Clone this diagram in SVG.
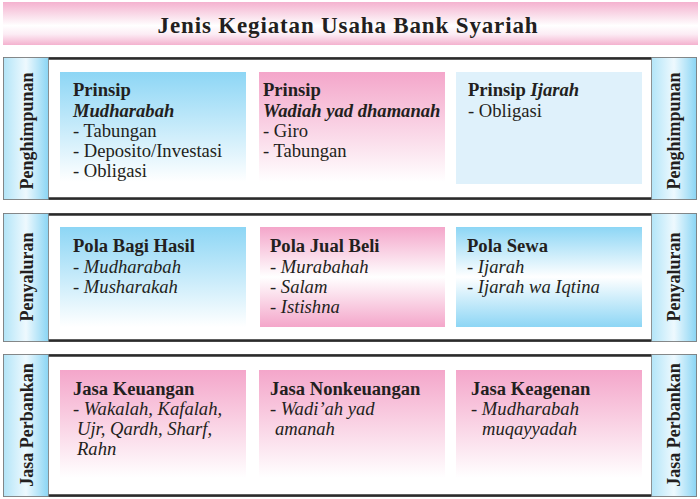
<svg xmlns="http://www.w3.org/2000/svg" width="700" height="499" viewBox="0 0 700 499">
<defs>
  <linearGradient id="gTitle" x1="0" y1="0" x2="0" y2="1">
    <stop offset="0" stop-color="#f4b2cf"/>
    <stop offset="0.55" stop-color="#ffffff"/>
    <stop offset="0.75" stop-color="#fcecf4"/>
    <stop offset="1" stop-color="#f4b2cf"/>
  </linearGradient>
  <linearGradient id="gTab" x1="0" y1="0" x2="1" y2="0">
    <stop offset="0" stop-color="#b3e5f8"/>
    <stop offset="0.5" stop-color="#eef9fe"/>
    <stop offset="1" stop-color="#8ad5f4"/>
  </linearGradient>
  <linearGradient id="gBlue" x1="0" y1="0" x2="0" y2="1">
    <stop offset="0" stop-color="#8dd6f5"/>
    <stop offset="1" stop-color="#ffffff"/>
  </linearGradient>
  <linearGradient id="gPink" x1="0" y1="0" x2="0" y2="1">
    <stop offset="0" stop-color="#f4a6ca"/>
    <stop offset="1" stop-color="#ffffff"/>
  </linearGradient>
  <linearGradient id="gPink3" x1="0" y1="0" x2="0" y2="1">
    <stop offset="0" stop-color="#f4a6ca"/>
    <stop offset="0.5" stop-color="#ffffff"/>
    <stop offset="1" stop-color="#f4a6ca"/>
  </linearGradient>
  <linearGradient id="gBlue3" x1="0" y1="0" x2="0" y2="1">
    <stop offset="0" stop-color="#8dd6f5"/>
    <stop offset="0.5" stop-color="#ffffff"/>
    <stop offset="1" stop-color="#8dd6f5"/>
  </linearGradient>
</defs>
<style>
  text { font-family: "Liberation Serif", "Times New Roman", serif; fill: #231f20; }
  .title { font-size: 23px; font-weight: bold; letter-spacing: 0.85px; }
  .tab { font-size: 18px; font-weight: bold; }
  .t { font-size: 18.6px; }
  .b { font-weight: bold; }
  .i { font-style: italic; }
  .frame { fill: #ffffff; stroke: #8a8a8a; stroke-width: 1; }
  .tabbox { fill: url(#gTab); stroke: #7a7a7a; stroke-width: 0.8; }
  .rule { stroke: #2b2b2b; stroke-width: 2.5; }
</style>

<g id="title">
  <rect x="3" y="2" width="695" height="43" fill="url(#gTitle)"/>
  <text class="title" x="348" y="33" text-anchor="middle">Jenis Kegiatan Usaha Bank Syariah</text>
</g>

<g id="section-penghimpunan">
  <rect class="frame" x="3.5" y="57.5" width="693" height="142"/>
  <line class="rule" x1="48" y1="58.5" x2="652" y2="58.5"/>
  <line class="rule" x1="48" y1="198.5" x2="652" y2="198.5"/>
  <rect class="tabbox" x="3.5" y="57.5" width="45" height="142"/>
  <rect class="tabbox" x="651.5" y="57.5" width="45" height="142"/>
  <text class="tab" transform="translate(33,131) rotate(-90)" text-anchor="middle">Penghimpunan</text>
  <text class="tab" transform="translate(680,131) rotate(-90)" text-anchor="middle">Penghimpunan</text>
  <g id="box-mudharabah">
    <rect x="60" y="72" width="186" height="110" fill="url(#gBlue)"/>
    <text class="t b" x="73" y="96">Prinsip</text>
    <text class="t b i" x="73" y="117">Mudharabah</text>
    <text class="t" x="73" y="137">- Tabungan</text>
    <text class="t" x="73" y="157">- Deposito/Investasi</text>
    <text class="t" x="73" y="177">- Obligasi</text>
  </g>
  <g id="box-wadiah">
    <rect x="259" y="72" width="186" height="110" fill="url(#gPink)"/>
    <text class="t b" x="263" y="96">Prinsip</text>
    <text class="t b i" x="263" y="117">Wadiah yad dhamanah</text>
    <text class="t" x="263" y="137">- Giro</text>
    <text class="t" x="263" y="157">- Tabungan</text>
  </g>
  <g id="box-ijarah">
    <rect x="456" y="72" width="186" height="112" fill="#dff1fb"/>
    <text class="t b" x="468" y="96">Prinsip <tspan class="i">Ijarah</tspan></text>
    <text class="t" x="468" y="117">- Obligasi</text>
  </g>
</g>

<g id="section-penyaluran">
  <rect class="frame" x="3.5" y="213.5" width="693" height="128"/>
  <line class="rule" x1="48" y1="214.5" x2="652" y2="214.5"/>
  <line class="rule" x1="48" y1="340.5" x2="652" y2="340.5"/>
  <rect class="tabbox" x="3.5" y="213.5" width="45" height="128"/>
  <rect class="tabbox" x="651.5" y="213.5" width="45" height="128"/>
  <text class="tab" transform="translate(33,277) rotate(-90)" text-anchor="middle">Penyaluran</text>
  <text class="tab" transform="translate(680,277) rotate(-90)" text-anchor="middle">Penyaluran</text>
  <g id="box-bagi-hasil">
    <rect x="60" y="227" width="186" height="100" fill="url(#gBlue)"/>
    <text class="t b" x="73" y="252">Pola Bagi Hasil</text>
    <text class="t i" x="73" y="273">- Mudharabah</text>
    <text class="t i" x="73" y="293">- Musharakah</text>
  </g>
  <g id="box-jual-beli">
    <rect x="260" y="227" width="185" height="100" fill="url(#gPink3)"/>
    <text class="t b" x="270" y="252">Pola Jual Beli</text>
    <text class="t i" x="270" y="273">- Murabahah</text>
    <text class="t i" x="270" y="293">- Salam</text>
    <text class="t i" x="270" y="313">- Istishna</text>
  </g>
  <g id="box-sewa">
    <rect x="456" y="227" width="186" height="100" fill="url(#gBlue3)"/>
    <text class="t b" x="467" y="252">Pola Sewa</text>
    <text class="t i" x="467" y="273">- Ijarah</text>
    <text class="t i" x="467" y="293">- Ijarah wa Iqtina</text>
  </g>
</g>

<g id="section-jasa">
  <rect class="frame" x="3.5" y="354.5" width="693" height="142"/>
  <line class="rule" x1="48" y1="355.5" x2="652" y2="355.5"/>
  <line class="rule" x1="48" y1="495.5" x2="652" y2="495.5"/>
  <rect class="tabbox" x="3.5" y="354.5" width="45" height="142"/>
  <rect class="tabbox" x="651.5" y="354.5" width="45" height="142"/>
  <text class="tab" transform="translate(33,425) rotate(-90)" text-anchor="middle">Jasa Perbankan</text>
  <text class="tab" transform="translate(680,425) rotate(-90)" text-anchor="middle">Jasa Perbankan</text>
  <g id="box-keuangan">
    <rect x="60" y="370" width="186" height="108" fill="url(#gPink)"/>
    <text class="t b" x="73" y="395">Jasa Keuangan</text>
    <text class="t i" x="73" y="415">- Wakalah, Kafalah,</text>
    <text class="t i" x="77" y="435">Ujr, Qardh, Sharf,</text>
    <text class="t i" x="77" y="455">Rahn</text>
  </g>
  <g id="box-nonkeuangan">
    <rect x="259" y="370" width="186" height="108" fill="url(#gPink)"/>
    <text class="t b" x="270" y="395">Jasa Nonkeuangan</text>
    <text class="t i" x="270" y="415">- Wadi’ah yad</text>
    <text class="t i" x="275" y="435">amanah</text>
  </g>
  <g id="box-keagenan">
    <rect x="456" y="370" width="186" height="108" fill="url(#gPink)"/>
    <text class="t b" x="471" y="395">Jasa Keagenan</text>
    <text class="t i" x="471" y="415">- Mudharabah</text>
    <text class="t i" x="482" y="435">muqayyadah</text>
  </g>
</g>
</svg>
